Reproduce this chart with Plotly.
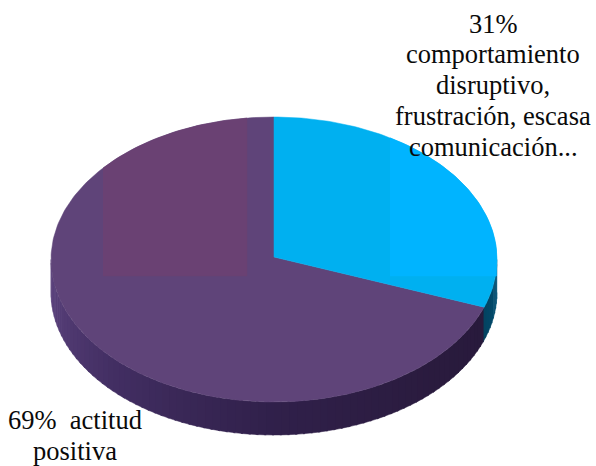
import math
import plotly.graph_objects as go

# Pie data
categories = ["comportamiento disruptivo", "actitud positiva"]
shares = [31, 69]
top_colors = ["#00b0f0", "#5f4479"]

# Wall shading stops: angle clockwise from the top of the disc, then RGB
purple_wall = [(110, (40, 26, 60)), (135, (42, 27, 62)), (180, (48, 32, 74)),
               (225, (66, 46, 98)), (270, (94, 68, 128))]
blue_wall = [(90, (0, 84, 120)), (110, (4, 66, 96))]

# Text blocks: label lines with their centre positions
upper_lines = ["31%", "comportamiento", "disruptivo,", "frustración, escasa", "comunicación..."]
upper_x = [493, 493, 493, 493, 493]
upper_y = [24, 54, 85, 116, 147]
lower_lines = ["69%  actitud", "positiva"]
lower_x = [75, 75]
lower_y = [420, 451]

# Tilted disc geometry in page pixels
CX, CY, RX, RY, DEPTH, APEX_Y = 274, 259.5, 223, 142.5, 33, 257
WIDTH, HEIGHT = 596, 466


def rim(deg, drop=0.0):
    a = math.radians(deg)
    return CX + RX * math.sin(a), CY - RY * math.cos(a) + drop


def perspective(deg):
    # The near half of a tilted disc looms larger, which bends slice edges slightly
    return deg + 3 * math.sin(math.radians(2 * deg))


def wedge(start, end):
    n = max(2, int(abs(end - start)))
    pts = [rim(start + (end - start) * i / n) for i in range(n + 1)]
    return [CX] + [p[0] for p in pts] + [CX], [APEX_Y] + [p[1] for p in pts] + [APEX_Y]


def wall(start, end):
    angles = [start, (start + end) / 2, end]
    up = [rim(t) for t in angles]
    down = [rim(t, DEPTH) for t in reversed(angles)]
    return [p[0] for p in up + down], [p[1] for p in up + down]


def wall_color(stops, deg):
    if deg <= stops[0][0]:
        c = stops[0][1]
    elif deg >= stops[-1][0]:
        c = stops[-1][1]
    else:
        for (a0, c0), (a1, c1) in zip(stops, stops[1:]):
            if a0 <= deg <= a1:
                f = (deg - a0) / (a1 - a0)
                c = tuple(c0[i] + (c1[i] - c0[i]) * f for i in range(3))
                break
    return "rgb(%d,%d,%d)" % tuple(round(v) for v in c)


def add_poly(fig, xs, ys, color):
    fig.add_trace(go.Scatter(x=xs, y=ys, mode="lines", fill="toself", fillcolor=color,
                             line=dict(color=color, width=0.5), hoverinfo="skip", showlegend=False))


def clipped_band(x0, x1, y_limit):
    # Part of the top face between two verticals, above a horizontal limit
    n = 60
    xs = [x0 + (x1 - x0) * i / n for i in range(n + 1)]
    tops = [CY - RY * math.sqrt(max(0, 1 - ((x - CX) / RX) ** 2)) for x in xs]
    return xs + [x1, x0], tops + [y_limit, y_limit]


fig = go.Figure()

split = perspective(360 * shares[0] / sum(shares))

# Side wall in thin strips so the shade runs smoothly around the front
step = 2.0
t = 90.0
while t < 270:
    t2 = min(t + step, 270)
    mid = (t + t2) / 2
    stops = blue_wall if mid < split else purple_wall
    xs, ys = wall(t, min(t2 + 0.5, 270))
    add_poly(fig, xs, ys, wall_color(stops, mid))
    t = t2

# Top face
xs, ys = wedge(split, 360)
add_poly(fig, xs, ys, top_colors[1])
xs, ys = wedge(0, split)
add_poly(fig, xs, ys, top_colors[0])

# Tint panels across the upper part of the face
xs, ys = clipped_band(103, 247, 276)
add_poly(fig, xs, ys, "#6a4173")
xs, ys = clipped_band(390, CX + RX - 0.5, 276)
add_poly(fig, xs, ys, "#00b4ff")

annotations = []
for line, x, y in zip(upper_lines + lower_lines, upper_x + lower_x, upper_y + lower_y):
    annotations.append(dict(x=x, y=y, text=line, showarrow=False, xref="x", yref="y",
                            xanchor="center", yanchor="middle",
                            font=dict(family="Liberation Serif", size=26.5, color="#0a0a0a")))

fig.update_layout(
    width=WIDTH, height=HEIGHT, margin=dict(l=0, r=0, t=0, b=0),
    paper_bgcolor="white", plot_bgcolor="white", showlegend=False,
    xaxis=dict(range=[0, WIDTH], visible=False, fixedrange=True),
    yaxis=dict(range=[HEIGHT, 0], visible=False, fixedrange=True),
    annotations=annotations,
)
fig.write_html("out.html", config={"displayModeBar": False})
